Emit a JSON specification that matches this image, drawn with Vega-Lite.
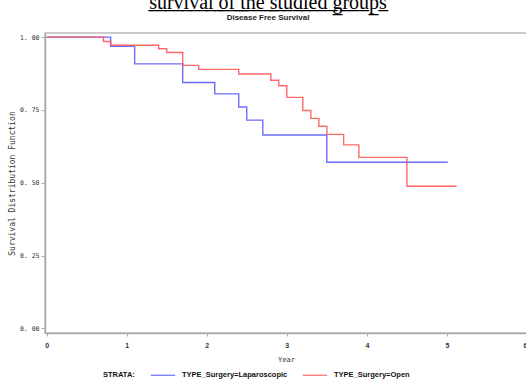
{
  "$schema": "https://vega.github.io/schema/vega-lite/v6.json",
  "width": 482,
  "height": 300,
  "autosize": {"type": "none"},
  "padding": {"left": 45, "top": 33, "right": 0, "bottom": 46},
  "background": "white",
  "title": {
    "text": "s̲u̲r̲v̲i̲v̲a̲l̲ ̲o̲f̲ ̲t̲h̲e̲ ̲s̲t̲u̲d̲i̲e̲d̲ ̲g̲r̲o̲u̲p̲s̲",
    "subtitle": "Disease Free Survival",
    "anchor": "middle",
    "frame": "group",
    "dx": -18,
    "offset": 11,
    "font": "Liberation Serif",
    "fontSize": 20,
    "fontWeight": "normal",
    "color": "black",
    "subtitleFont": "Liberation Sans",
    "subtitleFontSize": 8,
    "subtitleFontWeight": "bold",
    "subtitleColor": "#222222",
    "subtitlePadding": 1
  },
  "config": {
    "view": {"stroke": "#bbbbbb", "strokeWidth": 1.5},
    "axis": {"grid": false, "domainColor": "#aaaaaa", "tickColor": "#aaaaaa", "labelColor": "#333333", "titleColor": "#333333"}
  },
  "data": {
    "values": [
      {"strata": "TYPE_Surgery=Laparoscopic", "year": 0, "surv": 1.0},
      {"strata": "TYPE_Surgery=Laparoscopic", "year": 0.8, "surv": 0.968},
      {"strata": "TYPE_Surgery=Laparoscopic", "year": 1.1, "surv": 0.908},
      {"strata": "TYPE_Surgery=Laparoscopic", "year": 1.7, "surv": 0.844},
      {"strata": "TYPE_Surgery=Laparoscopic", "year": 2.1, "surv": 0.805},
      {"strata": "TYPE_Surgery=Laparoscopic", "year": 2.4, "surv": 0.76},
      {"strata": "TYPE_Surgery=Laparoscopic", "year": 2.5, "surv": 0.715},
      {"strata": "TYPE_Surgery=Laparoscopic", "year": 2.7, "surv": 0.664},
      {"strata": "TYPE_Surgery=Laparoscopic", "year": 3.5, "surv": 0.57},
      {"strata": "TYPE_Surgery=Laparoscopic", "year": 5.01, "surv": 0.57},
      {"strata": "TYPE_Surgery=Open", "year": 0, "surv": 1.0},
      {"strata": "TYPE_Surgery=Open", "year": 0.71, "surv": 0.985},
      {"strata": "TYPE_Surgery=Open", "year": 0.8, "surv": 0.972},
      {"strata": "TYPE_Surgery=Open", "year": 1.4, "surv": 0.96},
      {"strata": "TYPE_Surgery=Open", "year": 1.5, "surv": 0.947},
      {"strata": "TYPE_Surgery=Open", "year": 1.7, "surv": 0.903},
      {"strata": "TYPE_Surgery=Open", "year": 1.9, "surv": 0.889},
      {"strata": "TYPE_Surgery=Open", "year": 2.4, "surv": 0.873},
      {"strata": "TYPE_Surgery=Open", "year": 2.8, "surv": 0.852},
      {"strata": "TYPE_Surgery=Open", "year": 2.9, "surv": 0.833},
      {"strata": "TYPE_Surgery=Open", "year": 3.0, "surv": 0.793},
      {"strata": "TYPE_Surgery=Open", "year": 3.2, "surv": 0.748},
      {"strata": "TYPE_Surgery=Open", "year": 3.3, "surv": 0.721},
      {"strata": "TYPE_Surgery=Open", "year": 3.4, "surv": 0.694},
      {"strata": "TYPE_Surgery=Open", "year": 3.5, "surv": 0.666},
      {"strata": "TYPE_Surgery=Open", "year": 3.71, "surv": 0.63},
      {"strata": "TYPE_Surgery=Open", "year": 3.9, "surv": 0.587},
      {"strata": "TYPE_Surgery=Open", "year": 4.5, "surv": 0.488},
      {"strata": "TYPE_Surgery=Open", "year": 5.12, "surv": 0.488}
    ]
  },
  "mark": {"type": "line", "interpolate": "step-after", "strokeWidth": 1.4, "opacity": 0.85},
  "encoding": {
    "x": {
      "field": "year", "type": "quantitative",
      "scale": {"domain": [-0.02, 6.0], "nice": false, "zero": false},
      "axis": {"values": [0, 1, 2, 3, 4, 5, 6], "title": "Year", "format": "d",
        "labelFont": "Liberation Sans", "labelFontSize": 7, "labelFontWeight": "bold",
        "labelPadding": 5, "tickSize": 3, "titleFont": "DejaVu Sans Mono", "titleFontSize": 7,
        "titleFontWeight": "normal", "titlePadding": 7, "domainWidth": 1.5}
    },
    "y": {
      "field": "surv", "type": "quantitative",
      "scale": {"domain": [-0.016, 1.014], "nice": false, "zero": false},
      "axis": {"values": [0, 0.25, 0.5, 0.75, 1], "title": "Survival Distribution Function",
        "labelExpr": "replace(format(datum.value, '.2f'), '.', '. ')",
        "labelFont": "DejaVu Sans Mono", "labelFontSize": 6.5, "labelPadding": 2, "tickSize": 4,
        "titleFont": "DejaVu Sans Mono", "titleFontSize": 8, "titleFontWeight": "normal",
        "titlePadding": 3, "domainWidth": 1.5}
    },
    "color": {
      "field": "strata", "type": "nominal",
      "scale": {"domain": ["TYPE_Surgery=Laparoscopic", "TYPE_Surgery=Open"], "range": ["#5555ff", "#ff4d4d"]},
      "legend": {
        "orient": "none", "legendX": 58, "legendY": 329, "direction": "horizontal",
        "title": "STRATA:", "titleOrient": "left", "titleAnchor": "end", "titleBaseline": "bottom",
        "titleFont": "Liberation Sans", "titleFontSize": 7.5,
        "titleFontWeight": "bold", "titleColor": "#111111", "titlePadding": 15,
        "labelFont": "Liberation Sans", "labelFontSize": 7.5, "labelFontWeight": "bold", "labelColor": "#111111",
        "symbolType": "stroke", "symbolSize": 600, "symbolStrokeWidth": 1.2, "columnPadding": 12, "labelOffset": 6
      }
    }
  }
}
